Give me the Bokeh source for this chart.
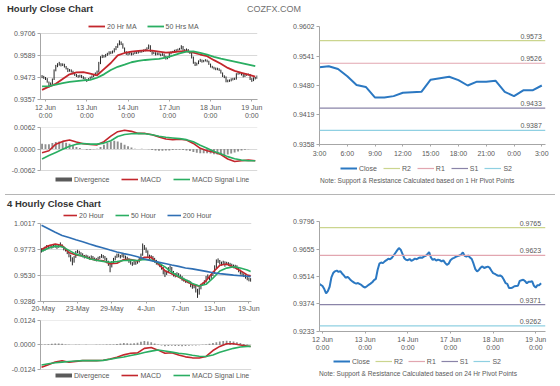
from bokeh.plotting import figure
from bokeh.layouts import column, row
from bokeh.models import (Legend, LegendItem, Span, FixedTicker,
                          NumeralTickFormatter, Div, Range1d)
from bokeh.core.properties import value
from bokeh.embed import file_html
from bokeh.resources import INLINE

FONT = "Liberation Sans"
TXT = "#595959"
AXC = "#a6a6a6"
GRIDC = "#d9d9d9"
RED = "#c3262c"
GREEN = "#2aae62"
BLUE = "#2f6fb4"
CLOSEC = "#2b78c2"
BARC = "#262626"
DIVC = "#8f8f8f"
DIVLEG = "#5a5a5a"
PIVC = {"R2": "#cbd58e", "R1": "#e2a6b0", "S1": "#8a84a8", "S2": "#8fd0e2"}

# ---------------- hourly data (11 Jun 22:00 .. 19 Jun 3:00) ----------------
hourly_close = [
    0.9478, 0.9472, 0.9466, 0.9450, 0.9428, 0.9440, 0.9462, 0.9510, 0.9532, 0.9541,
    0.9545, 0.9538, 0.9542, 0.9530, 0.9520, 0.9508, 0.9513, 0.9505, 0.9495, 0.9488,
    0.9482, 0.9478, 0.9481, 0.9476, 0.9470, 0.9462, 0.9458, 0.9465, 0.9472, 0.9478,
    0.9485, 0.9496, 0.9502, 0.9548, 0.9580, 0.9586, 0.9583, 0.9592, 0.9598, 0.9606,
    0.9603, 0.9610, 0.9622, 0.9635, 0.9648, 0.9660, 0.9652, 0.9630, 0.9608, 0.9600,
    0.9598, 0.9604, 0.9595, 0.9600, 0.9606, 0.9603, 0.9609, 0.9612, 0.9610, 0.9616,
    0.9620, 0.9628, 0.9640, 0.9612, 0.9600, 0.9604, 0.9596, 0.9601, 0.9598, 0.9592,
    0.9597, 0.9584, 0.9574, 0.9580, 0.9598, 0.9606, 0.9610, 0.9615, 0.9619, 0.9622,
    0.9626, 0.9638, 0.9620, 0.9616, 0.9622, 0.9612, 0.9604, 0.9580, 0.9552, 0.9540,
    0.9548, 0.9560, 0.9566, 0.9558, 0.9562, 0.9565, 0.9560, 0.9545, 0.9532, 0.9528,
    0.9522, 0.9518, 0.9520, 0.9514, 0.9499, 0.9481, 0.9477, 0.9455, 0.9455, 0.9458,
    0.9465, 0.9466, 0.9467, 0.9492, 0.9495, 0.9498, 0.9491, 0.9480, 0.9488, 0.9488,
    0.9490, 0.9467, 0.9458, 0.9470, 0.9470, 0.9480]
hourly_high = [
    0.9486, 0.9482, 0.9476, 0.9470, 0.9452, 0.9447, 0.9468, 0.9516, 0.9540, 0.9549,
    0.9556, 0.9549, 0.9548, 0.9546, 0.9534, 0.9524, 0.9518, 0.9516, 0.9509, 0.9498,
    0.9492, 0.9486, 0.9488, 0.9487, 0.9480, 0.9474, 0.9466, 0.9470, 0.9478, 0.9484,
    0.9490, 0.9500, 0.9510, 0.9556, 0.9586, 0.9594, 0.9592, 0.9598, 0.9604, 0.9612,
    0.9612, 0.9616, 0.9628, 0.9640, 0.9654, 0.9670, 0.9664, 0.9654, 0.9632, 0.9612,
    0.9606, 0.9610, 0.9606, 0.9605, 0.9612, 0.9610, 0.9614, 0.9618, 0.9616, 0.9621,
    0.9625, 0.9633, 0.9648, 0.9644, 0.9615, 0.9610, 0.9607, 0.9606, 0.9605, 0.9600,
    0.9602, 0.9600, 0.9588, 0.9584, 0.9603, 0.9612, 0.9614, 0.9620, 0.9623, 0.9626,
    0.9630, 0.9644, 0.9640, 0.9624, 0.9627, 0.9624, 0.9614, 0.9606, 0.9584, 0.9556,
    0.9552, 0.9564, 0.9572, 0.9568, 0.9566, 0.9570, 0.9568, 0.9562, 0.9547, 0.9535,
    0.9530, 0.9526, 0.9525, 0.9522, 0.9515, 0.9500, 0.9485, 0.9479, 0.9462, 0.9463,
    0.9469, 0.9471, 0.9472, 0.9496, 0.9500, 0.9503, 0.9499, 0.9492, 0.9492, 0.9493,
    0.9494, 0.9492, 0.9470, 0.9474, 0.9476, 0.9484]
hourly_low = [
    0.9470, 0.9466, 0.9460, 0.9446, 0.9420, 0.9426, 0.9438, 0.9460, 0.9506, 0.9528,
    0.9536, 0.9532, 0.9534, 0.9526, 0.9516, 0.9502, 0.9504, 0.9500, 0.9490, 0.9482,
    0.9476, 0.9472, 0.9474, 0.9470, 0.9464, 0.9456, 0.9450, 0.9455, 0.9462, 0.9469,
    0.9475, 0.9482, 0.9492, 0.9500, 0.9544, 0.9576, 0.9578, 0.9580, 0.9588, 0.9594,
    0.9597, 0.9600, 0.9606, 0.9618, 0.9630, 0.9644, 0.9645, 0.9626, 0.9602, 0.9593,
    0.9590, 0.9594, 0.9590, 0.9592, 0.9597, 0.9598, 0.9600, 0.9604, 0.9605, 0.9608,
    0.9612, 0.9617, 0.9624, 0.9608, 0.9594, 0.9597, 0.9590, 0.9592, 0.9592, 0.9586,
    0.9588, 0.9578, 0.9568, 0.9570, 0.9576, 0.9596, 0.9603, 0.9607, 0.9612, 0.9615,
    0.9618, 0.9622, 0.9615, 0.9610, 0.9612, 0.9606, 0.9598, 0.9574, 0.9546, 0.9534,
    0.9536, 0.9544, 0.9556, 0.9552, 0.9554, 0.9558, 0.9554, 0.9540, 0.9526, 0.9522,
    0.9516, 0.9512, 0.9512, 0.9508, 0.9494, 0.9476, 0.9470, 0.9448, 0.9448, 0.9450,
    0.9453, 0.9458, 0.9460, 0.9462, 0.9488, 0.9490, 0.9484, 0.9474, 0.9476, 0.9482,
    0.9484, 0.9460, 0.9450, 0.9454, 0.9463, 0.9466]

hourly_ma_x = list(range(0, 125, 4))
hourly_ma20 = [0.9408, 0.9425, 0.9440, 0.9465, 0.9490, 0.9500, 0.9502, 0.9494,
               0.9485, 0.9518, 0.9550, 0.9590, 0.9603, 0.9610, 0.9614, 0.9617,
               0.9615, 0.9610, 0.9605, 0.9607, 0.9611, 0.9613, 0.9605, 0.9595,
               0.9586, 0.9565, 0.9546, 0.9524, 0.9508, 0.9498, 0.9488, 0.9478]
hourly_ma50 = [0.9426, 0.9428, 0.9435, 0.9444, 0.9450, 0.9454, 0.9458, 0.9461,
               0.9472, 0.9490, 0.9513, 0.9530, 0.9541, 0.9554, 0.9561, 0.9566,
               0.9569, 0.9572, 0.9578, 0.9589, 0.9601, 0.9610, 0.9611, 0.9604,
               0.9594, 0.9583, 0.9573, 0.9565, 0.9557, 0.9549, 0.9541, 0.9533]
hourly_macd = [-0.0011, -0.0005, 0.0014, 0.0022, 0.0026, 0.0020, 0.0015, 0.0013,
               0.0012, 0.0021, 0.0037, 0.0050, 0.0054, 0.0051, 0.0045, 0.0045,
               0.0041, 0.0035, 0.0029, 0.0027, 0.0028, 0.0026, 0.0016, 0.0002,
               -0.0005, -0.0009, -0.0016, -0.0029, -0.0036, -0.0034, -0.0032, -0.0034]
hourly_signal = [-0.0029, -0.0019, -0.0010, -0.0001, 0.0008, 0.0014, 0.0016, 0.0014,
                 0.0014, 0.0017, 0.0024, 0.0036, 0.0042, 0.0044, 0.0045, 0.0044,
                 0.0041, 0.0037, 0.0034, 0.0032, 0.0030, 0.0027, 0.0021, 0.0011,
                 0.0002, -0.0007, -0.0014, -0.0022, -0.0028, -0.0032, -0.0034, -0.0034]
hourly_div_x = list(range(0, 125, 2))
hourly_div = [0.0015, 0.0014, 0.0014, 0.0017, 0.0020, 0.0022, 0.0020, 0.0018, 0.0015, 0.0010,
              0.0006, 0.0003, 0.0000, -0.0002, -0.0002, -0.0001, 0.0001, 0.0006, 0.0012, 0.0018,
              0.0022, 0.0024, 0.0022, 0.0018, 0.0012, 0.0008, 0.0004, 0.0001, 0.0000, 0.0001,
              0.0000, -0.0001, -0.0003, -0.0004, -0.0005, -0.0005, -0.0004, -0.0004, -0.0003, -0.0002,
              -0.0002, -0.0003, -0.0004, -0.0006, -0.0009, -0.0011, -0.0012, -0.0012, -0.0012, -0.0013,
              -0.0015, -0.0016, -0.0017, -0.0018, -0.0016, -0.0013, -0.0010, -0.0007, -0.0004, -0.0002,
              -0.0001, 0.0000, 0.0000]
hourly_tick_idx = [2, 26, 50, 74, 98, 122]
hourly_tick_lbl = ["12 Jun\n0:00", "13 Jun\n0:00", "14 Jun\n0:00",
                   "17 Jun\n0:00", "18 Jun\n0:00", "19 Jun\n0:00"]
hourly_yticks = [0.9357, 0.9473, 0.9589, 0.9706]
hourly_macd_ticks = [-0.0062, 0.0, 0.0062]

# last 24 hours (1 Hr pivots)
day_tick_lbl = ["3:00", "6:00", "9:00", "12:00", "15:00", "18:00", "21:00", "0:00", "3:00"]
day_yticks = [0.9358, 0.9419, 0.9480, 0.9541, 0.9602]
day_pivots = {"R2": 0.9573, "R1": 0.9526, "S1": 0.9433, "S2": 0.9387}

# 24 Hr pivots
week_yticks = [0.9233, 0.9374, 0.9514, 0.9655, 0.9796]
week_pivots = {"R2": 0.9765, "R1": 0.9623, "S1": 0.9371, "S2": 0.9262}

# ---------------- 4 hourly data (20 May .. 19 Jun) ----------------
h4_close = [
    0.9765, 0.9772, 0.9790, 0.9800, 0.9795, 0.9805, 0.9798, 0.9810, 0.9802, 0.9795,
    0.9808, 0.9815, 0.9800, 0.9780, 0.9770, 0.9745, 0.9720, 0.9690, 0.9660, 0.9700,
    0.9745, 0.9755, 0.9740, 0.9730, 0.9715, 0.9705, 0.9712, 0.9700, 0.9695, 0.9705,
    0.9690, 0.9685, 0.9680, 0.9692, 0.9700, 0.9712, 0.9705, 0.9690, 0.9660, 0.9640,
    0.9620, 0.9650, 0.9680, 0.9700, 0.9720, 0.9715, 0.9705, 0.9722, 0.9710, 0.9700,
    0.9688, 0.9665, 0.9650, 0.9640, 0.9655, 0.9645, 0.9660, 0.9680, 0.9720, 0.9800,
    0.9785, 0.9760, 0.9720, 0.9700, 0.9705, 0.9690, 0.9670, 0.9650, 0.9640, 0.9625,
    0.9605, 0.9570, 0.9545, 0.9560, 0.9590, 0.9600, 0.9560, 0.9540, 0.9530, 0.9545,
    0.9530, 0.9520, 0.9500, 0.9490, 0.9480, 0.9475, 0.9470, 0.9440, 0.9425, 0.9430,
    0.9400, 0.9360, 0.9410, 0.9440, 0.9450, 0.9470, 0.9510, 0.9520, 0.9505, 0.9530,
    0.9550, 0.9610, 0.9660, 0.9670, 0.9650, 0.9640, 0.9655, 0.9630, 0.9645, 0.9640,
    0.9630, 0.9625, 0.9615, 0.9620, 0.9605, 0.9580, 0.9560, 0.9545, 0.9535, 0.9520,
    0.9505, 0.9495, 0.9490]
h4_high = [
    0.9785, 0.9788, 0.9800, 0.9815, 0.9812, 0.9818, 0.9815, 0.9822, 0.9820, 0.9812,
    0.9822, 0.9840, 0.9822, 0.9805, 0.9790, 0.9775, 0.9752, 0.9725, 0.9700, 0.9712,
    0.9760, 0.9770, 0.9762, 0.9748, 0.9738, 0.9722, 0.9725, 0.9718, 0.9708, 0.9718,
    0.9712, 0.9698, 0.9692, 0.9705, 0.9712, 0.9730, 0.9722, 0.9712, 0.9695, 0.9668,
    0.9648, 0.9665, 0.9695, 0.9715, 0.9735, 0.9735, 0.9722, 0.9735, 0.9730, 0.9716,
    0.9705, 0.9692, 0.9670, 0.9655, 0.9668, 0.9662, 0.9672, 0.9695, 0.9735, 0.9830,
    0.9815, 0.9792, 0.9765, 0.9725, 0.9720, 0.9712, 0.9695, 0.9676, 0.9658, 0.9645,
    0.9630, 0.9610, 0.9580, 0.9575, 0.9608, 0.9625, 0.9610, 0.9572, 0.9552, 0.9560,
    0.9552, 0.9540, 0.9525, 0.9508, 0.9495, 0.9490, 0.9485, 0.9475, 0.9448, 0.9445,
    0.9435, 0.9405, 0.9420, 0.9452, 0.9462, 0.9485, 0.9525, 0.9540, 0.9528, 0.9542,
    0.9565, 0.9625, 0.9680, 0.9690, 0.9675, 0.9660, 0.9668, 0.9662, 0.9658, 0.9655,
    0.9648, 0.9640, 0.9632, 0.9630, 0.9625, 0.9610, 0.9585, 0.9565, 0.9550, 0.9540,
    0.9525, 0.9510, 0.9505]
h4_low = [
    0.9745, 0.9755, 0.9762, 0.9782, 0.9780, 0.9788, 0.9782, 0.9792, 0.9790, 0.9780,
    0.9790, 0.9800, 0.9790, 0.9765, 0.9755, 0.9730, 0.9700, 0.9660, 0.9625, 0.9650,
    0.9695, 0.9738, 0.9728, 0.9715, 0.9700, 0.9690, 0.9695, 0.9688, 0.9680, 0.9688,
    0.9675, 0.9670, 0.9662, 0.9672, 0.9685, 0.9695, 0.9690, 0.9672, 0.9645, 0.9620,
    0.9560, 0.9605, 0.9640, 0.9672, 0.9695, 0.9700, 0.9690, 0.9700, 0.9695, 0.9685,
    0.9670, 0.9648, 0.9632, 0.9620, 0.9630, 0.9630, 0.9640, 0.9652, 0.9675, 0.9715,
    0.9770, 0.9742, 0.9700, 0.9685, 0.9688, 0.9672, 0.9650, 0.9632, 0.9625, 0.9608,
    0.9585, 0.9540, 0.9515, 0.9535, 0.9552, 0.9582, 0.9540, 0.9520, 0.9512, 0.9525,
    0.9512, 0.9502, 0.9480, 0.9472, 0.9462, 0.9458, 0.9455, 0.9420, 0.9405, 0.9410,
    0.9370, 0.9320, 0.9350, 0.9400, 0.9435, 0.9440, 0.9462, 0.9500, 0.9488, 0.9498,
    0.9525, 0.9545, 0.9600, 0.9648, 0.9632, 0.9622, 0.9630, 0.9612, 0.9625, 0.9620,
    0.9612, 0.9605, 0.9598, 0.9600, 0.9585, 0.9560, 0.9538, 0.9525, 0.9515, 0.9500,
    0.9485, 0.9475, 0.9472]
h4_ma_x = list(range(0, 121, 4)) + [122]
h4_ma20 = [0.9773, 0.9808, 0.9825, 0.9810, 0.9745, 0.9722, 0.9712, 0.9688,
           0.9674, 0.9668, 0.9640, 0.9645, 0.9680, 0.9680, 0.9665, 0.9700,
           0.9700, 0.9640, 0.9575, 0.9545, 0.9515, 0.9480, 0.9445, 0.9430,
           0.9480, 0.9560, 0.9625, 0.9637, 0.9610, 0.9575, 0.9535, 0.9526]
h4_ma50 = [0.9757, 0.9785, 0.9805, 0.9800, 0.9765, 0.9730, 0.9710, 0.9686,
           0.9672, 0.9662, 0.9654, 0.9660, 0.9670, 0.9674, 0.9670, 0.9680,
           0.9675, 0.9650, 0.9610, 0.9560, 0.9520, 0.9490, 0.9455, 0.9432,
           0.9447, 0.9505, 0.9572, 0.9599, 0.9612, 0.9600, 0.9582, 0.9567]
h4_ma200 = [1.0001, 0.9968, 0.9935, 0.9905, 0.9885, 0.9865, 0.9846, 0.9825,
            0.9805, 0.9788, 0.9768, 0.9750, 0.9735, 0.9722, 0.9705, 0.9685,
            0.9668, 0.9655, 0.9642, 0.9628, 0.9615, 0.9600, 0.9592, 0.9580,
            0.9568, 0.9555, 0.9547, 0.9540, 0.9533, 0.9528, 0.9522, 0.9519]
h4_macd = [-0.0113, -0.0100, -0.0086, -0.0080, -0.0087, -0.0083, -0.0079, -0.0079,
           -0.0079, -0.0077, -0.0071, -0.0062, -0.0050, -0.0042, -0.0040, -0.0017,
           -0.0013, -0.0026, -0.0042, -0.0039, -0.0051, -0.0060, -0.0065, -0.0066,
           -0.0058, -0.0028, -0.0007, 0.0006, 0.0006, 0.0000, -0.0005, -0.0008]
h4_signal = [-0.0101, -0.0095, -0.0090, -0.0087, -0.0084, -0.0081, -0.0079, -0.0079,
             -0.0079, -0.0078, -0.0072, -0.0066, -0.0061, -0.0053, -0.0047, -0.0038,
             -0.0031, -0.0025, -0.0030, -0.0036, -0.0042, -0.0046, -0.0052, -0.0057,
             -0.0058, -0.0051, -0.0037, -0.0027, -0.0017, -0.0010, -0.0007, -0.0007]
h4_div_x = list(range(0, 123, 2))
h4_div = [0.0002, 0.0003, 0.0004, 0.0006, 0.0007, 0.0008, 0.0006, 0.0003, 0.0001, 0.0000,
          0.0001, 0.0001, 0.0000, 0.0001, 0.0000, 0.0000, 0.0001, 0.0001, 0.0001, 0.0002,
          0.0002, 0.0003, 0.0005, 0.0008, 0.0010, 0.0009, 0.0008, 0.0009, 0.0012, 0.0017,
          0.0020, 0.0018, 0.0014, 0.0008, 0.0002, -0.0003, -0.0006, -0.0005, -0.0004, -0.0005,
          -0.0005, -0.0006, -0.0005, -0.0004, -0.0003, -0.0002, -0.0001, 0.0001, 0.0003, 0.0006,
          0.0010, 0.0014, 0.0018, 0.0020, 0.0021, 0.0020, 0.0018, 0.0014, 0.0010, 0.0005,
          0.0002, 0.0000]
h4_tick_idx = [1, 21, 41, 61, 81, 101, 121]
h4_tick_lbl = ["20-May", "23-May", "29-May", "4-Jun", "7-Jun", "13-Jun", "19-Jun"]
h4_yticks = [0.9286, 0.9530, 0.9773, 1.0017]
h4_macd_ticks = [-0.0124, 0.0, 0.0124]

NOTE_1H = "Note: Support &amp; Resistance Calculated based on 1 Hr Pivot Points"
NOTE_24H = "Note: Support &amp; Resistance Calculated based on 24 Hr Pivot Points"


# ---------------- helpers ----------------
def style_axis(ax, size="7px"):
    ax.axis_line_color = AXC
    ax.major_tick_line_color = AXC
    ax.minor_tick_line_color = None
    ax.major_tick_out = 3
    ax.major_tick_in = 0
    ax.major_label_text_font = FONT
    ax.major_label_text_font_size = size
    ax.major_label_text_color = TXT
    ax.major_label_standoff = 2


def make_fig(fw, fh, left, right, top, bottom, xr, yr, yticks, grid=True, xaxis=True):
    kw = {} if xaxis else {"x_axis_location": None}
    p = figure(frame_width=fw, frame_height=fh, min_border_left=left,
               min_border_right=right, min_border_top=top, min_border_bottom=bottom,
               x_range=Range1d(*xr), y_range=Range1d(*yr),
               toolbar_location=None, output_backend="svg", **kw)
    p.outline_line_color = None
    p.background_fill_color = "white"
    p.border_fill_color = "white"
    p.xgrid.visible = False
    tk = FixedTicker(ticks=yticks)
    p.yaxis[0].ticker = tk
    p.yaxis[0].formatter = NumeralTickFormatter(format="0.0000")
    p.yaxis[0].bounds = (min(yticks), max(yticks))
    p.ygrid[0].ticker = tk
    p.ygrid.grid_line_color = GRIDC if grid else None
    style_axis(p.yaxis[0])
    if xaxis:
        style_axis(p.xaxis[0])
    return p


def make_strip(w, h):
    p = figure(frame_width=w, frame_height=h, min_border=0,
               x_range=Range1d(0, w), y_range=Range1d(0, h),
               x_axis_location=None, y_axis_location=None,
               toolbar_location=None, output_backend="svg")
    p.outline_line_color = None
    p.grid.visible = False
    p.border_fill_color = "white"
    return p


def set_xticks(p, idx, lbl, standoff=1):
    p.xaxis[0].ticker = FixedTicker(ticks=idx)
    p.xaxis[0].major_label_overrides = {i: s for i, s in zip(idx, lbl)}
    p.xaxis[0].major_tick_out = 2
    p.xaxis[0].major_label_standoff = standoff


def add_legend(p, items, x, y, glyph_w=17, spacing=8):
    leg = Legend(items=items, location=(x, y), orientation="horizontal",
                 label_text_font=FONT, label_text_font_size="7px",
                 label_text_color=TXT, glyph_width=glyph_w, glyph_height=8,
                 label_height=8, label_width=8, label_standoff=2,
                 spacing=spacing, padding=0, margin=0,
                 border_line_color=None, background_fill_alpha=0)
    p.add_layout(leg)


PIV_NAMES = ["R2", "R1", "S1", "S2"]


def add_pivots(p, pivots, xs):
    for name in PIV_NAMES:
        p.add_layout(Span(location=pivots[name], dimension="width",
                          line_color=PIVC[name], line_width=1.2))
    p.text(x=[xs[-1]] * 4, y=[pivots[n] for n in PIV_NAMES],
           text=["%.4f" % pivots[n] for n in PIV_NAMES],
           text_align="right", text_baseline="bottom", y_offset=-2,
           text_font=value(FONT), text_font_size="7px", text_color=TXT)


def pivot_legend_strip(w, h, leg_x, leg_y, spacing):
    s = make_strip(w, h)
    hidden_x, hidden_y = [-20, -10], [-5, -5]
    items = [LegendItem(label="Close", renderers=[
        s.line(hidden_x, hidden_y, line_color=CLOSEC, line_width=2)])]
    for name in PIV_NAMES:
        r = s.line(hidden_x, hidden_y, line_color=PIVC[name], line_width=1.2)
        items.append(LegendItem(label=name, renderers=[r]))
    add_legend(s, items, leg_x, leg_y, 17, spacing)
    return s


def note_div(text, w, h, left, top):
    return Div(text=(
        '<div style="position:relative;width:%dpx;height:%dpx;'
        "font-family:'Liberation Sans',Arial,sans-serif;\">"
        '<span style="position:absolute;left:%dpx;top:%dpx;font-size:6.6px;'
        'line-height:8px;color:%s;white-space:nowrap;">%s</span></div>'
        % (w, h, left, top, TXT, text)), width=w, height=h, margin=0)


hr_x = list(range(len(hourly_close)))
h4_x = list(range(len(h4_close)))
HR_XR = (-0.9, 125.3)
H4_XR = (-0.6, 122.5)

# ---------------- Fig A: hourly price (canvas y 18..122) ----------------
fa = make_fig(217, 81, 40, 23, 0, 23, HR_XR, (0.93569, 0.97855), hourly_yticks)
set_xticks(fa, hourly_tick_idx, hourly_tick_lbl, 2)
fa.segment(x0=hr_x, y0=hourly_low, x1=hr_x, y1=hourly_high, line_color=BARC, line_width=1)
ra1 = fa.line(hourly_ma_x, hourly_ma20, line_color=RED, line_width=1.8)
ra2 = fa.line(hourly_ma_x, hourly_ma50, line_color=GREEN, line_width=1.8)
add_legend(fa, [LegendItem(label="20 Hr MA", renderers=[ra1]),
                LegendItem(label="50 Hrs MA", renderers=[ra2])], 48, 69, 17, 10)

# ---------------- Fig B: hourly MACD (canvas y 122..190) ----------------
fb = make_fig(217, 59, 40, 23, 5, 4, HR_XR, (-0.01083, 0.00621),
              hourly_macd_ticks, xaxis=False)
fb.vbar(x=hourly_div_x, top=hourly_div, bottom=0, width=1.1, fill_color=DIVC, line_color=None)
rb0 = fb.line([-20, -10], [0, 0], line_color=DIVLEG, line_width=4)
rb1 = fb.line(hourly_ma_x, hourly_macd, line_color=RED, line_width=1.6)
rb2 = fb.line(hourly_ma_x, hourly_signal, line_color=GREEN, line_width=1.6)
add_legend(fb, [LegendItem(label="Divergence", renderers=[rb0]),
                LegendItem(label="MACD", renderers=[rb1]),
                LegendItem(label="MACD Signal Line", renderers=[rb2])], 15, 3, 17, 12)

# ---------------- Fig C: last 24 hours with 1 Hr pivots (y 18..158) ----------------
day_close = hourly_close[-25:]
day_x = list(range(len(day_close)))
fc = make_fig(226, 118, 39, 15, 8, 14, (0, 24.4), (0.93579, 0.96021), day_yticks, grid=False)
set_xticks(fc, list(range(0, 25, 3)), day_tick_lbl, 3)
add_pivots(fc, day_pivots, day_x)
fc.line(day_x, day_close, line_color=CLOSEC, line_width=2)
sc = pivot_legend_strip(280, 18, 60, 5, 6)
nc = note_div(NOTE_1H, 280, 14, 40, 0)

# ---------------- Fig D: 4 hourly price (y 210..312) ----------------
fd = make_fig(211, 90, 40, 29, 0, 12, H4_XR, (0.92859, 1.01296), h4_yticks)
set_xticks(fd, h4_tick_idx, h4_tick_lbl, 1)
fd.segment(x0=h4_x, y0=h4_low, x1=h4_x, y1=h4_high, line_color=BARC, line_width=1)
rd1 = fd.line(h4_ma_x, h4_ma20, line_color=RED, line_width=1.6)
rd2 = fd.line(h4_ma_x, h4_ma50, line_color=GREEN, line_width=1.6)
rd3 = fd.line(h4_ma_x, h4_ma200, line_color=BLUE, line_width=1.6)
add_legend(fd, [LegendItem(label="20 Hour", renderers=[rd1]),
                LegendItem(label="50 Hour", renderers=[rd2]),
                LegendItem(label="200 Hour", renderers=[rd3])], 23, 82, 14, 11)

# ---------------- Fig E: 4 hourly MACD (y 312..382) ----------------
fe = make_fig(211, 62, 40, 29, 6, 2, H4_XR, (-0.01900, 0.01241),
              h4_macd_ticks, xaxis=False)
fe.vbar(x=h4_div_x, top=h4_div, bottom=0, width=1.0, fill_color=DIVC, line_color=None)
re0 = fe.line([-20, -10], [0, 0], line_color=DIVLEG, line_width=4)
re1 = fe.line(h4_ma_x, h4_macd, line_color=RED, line_width=1.6)
re2 = fe.line(h4_ma_x, h4_signal, line_color=GREEN, line_width=1.6)
add_legend(fe, [LegendItem(label="Divergence", renderers=[re0]),
                LegendItem(label="MACD", renderers=[re1]),
                LegendItem(label="MACD Signal Line", renderers=[re2])], 15, 3, 17, 12)

# ---------------- Fig F: hourly close with 24 Hr pivots (y 210..352) ----------------
ff = make_fig(226, 120, 39, 15, 0, 22, (0.3, 127.5), (0.92329, 0.98473), week_yticks, grid=False)
set_xticks(ff, hourly_tick_idx, hourly_tick_lbl, 2)
add_pivots(ff, week_pivots, hr_x)
ff.line(hr_x, hourly_close, line_color=CLOSEC, line_width=2)
sf = pivot_legend_strip(280, 16, 53, 4, 5)
nf = note_div(NOTE_24H, 280, 14, 39, 1)

# ---------------- text strips ----------------
FF = "font-family:'Liberation Sans',Arial,sans-serif;"
div_top = Div(text=(
    '<div style="position:relative;width:560px;height:18px;' + FF + '">'
    '<span style="position:absolute;left:7px;top:3px;font-size:9.5px;line-height:11px;'
    'font-weight:bold;color:#333;white-space:nowrap;">Hourly Close Chart</span>'
    '<span style="position:absolute;left:247px;top:4px;font-size:9px;line-height:10px;'
    'color:#707070;white-space:nowrap;">COZFX.COM</span></div>'), width=560, height=18, margin=0)
div_mid = Div(text=(
    '<div style="position:relative;width:560px;height:20px;' + FF + '">'
    '<div style="position:absolute;left:5px;top:3px;width:550px;height:0;'
    'border-top:1px solid #b5b5b5;"></div>'
    '<span style="position:absolute;left:7px;top:7px;font-size:9.5px;line-height:11px;'
    'font-weight:bold;color:#333;white-space:nowrap;">4 Hourly Close Chart</span></div>'),
    width=560, height=20, margin=0)
div_bot = Div(text=(
    '<div style="position:relative;width:560px;height:4px;">'
    '<div style="position:absolute;left:5px;top:2px;width:550px;height:0;'
    'border-top:1px solid #b5b5b5;"></div></div>'), width=560, height=4, margin=0)

layout = column(div_top,
                row(column(fa, fb), column(fc, sc, nc)),
                div_mid,
                row(column(fd, fe), column(ff, sf, nf)),
                div_bot)

open("out.html", "w").write(file_html(layout, INLINE))
